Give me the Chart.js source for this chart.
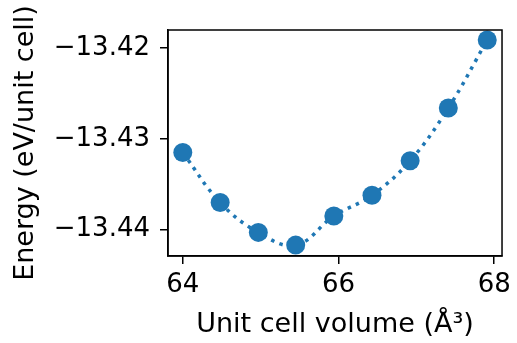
<!DOCTYPE html>
<html>
<head>
<meta charset="utf-8">
<script src="https://cdn.jsdelivr.net/npm/chart.js@4"></script>
<style>
  html, body { margin: 0; padding: 0; background: #fff; }
  #wrap { width: 517px; height: 343px; }
</style>
</head>
<body>
<div id="wrap"><canvas id="chart" width="517" height="343"></canvas></div>
<script>
// valores
const volumes = [64.00, 64.48, 64.97, 65.45, 65.94, 66.43, 66.92, 67.41, 67.91];
const energies = [-13.4315, -13.4370, -13.4403, -13.4417, -13.4385, -13.4362, -13.4324, -13.4266, -13.4191];
const xTicks = [64, 66, 68];
const yTicks = [-13.42, -13.43, -13.44];

const blue = '#1f77b4';
const fontFamily = '"DejaVu Sans", sans-serif';

const points = volumes.map((v, i) => ({ x: v, y: energies[i] }));

new Chart(document.getElementById('chart').getContext('2d'), {
    type: 'scatter',
    data: {
        datasets: [{
            data: points,
            showLine: true,
            tension: 0.4,
            borderColor: blue,
            borderWidth: 3.5,
            borderDash: [3.5, 5.5],
            backgroundColor: blue,
            pointBackgroundColor: blue,
            pointBorderWidth: 0,
            pointRadius: 9.5,
            clip: false
        }]
    },
    options: {
        responsive: false,
        animation: false,
        layout: { padding: { top: 30, right: 9, left: 0, bottom: 0 } },
        plugins: {
            legend: { display: false },
            tooltip: { enabled: false }
        },
        scales: {
            x: {
                type: 'linear',
                min: 63.81,
                max: 68.10,
                afterBuildTicks: scale => { scale.ticks = xTicks.map(v => ({ value: v })); },
                afterFit: scale => { scale.height = 87; },
                border: { display: true, color: '#000', width: 1.5 },
                grid: { drawOnChartArea: false, drawTicks: true, tickLength: 8, color: '#000', lineWidth: 1.5 },
                ticks: {
                    color: '#000',
                    padding: 6,
                    font: { family: fontFamily, size: 26 },
                    callback: v => String(v)
                },
                title: {
                    display: true,
                    text: 'Unit cell volume (Å³)',
                    color: '#000',
                    font: { family: fontFamily, size: 27 },
                    padding: { top: 0, bottom: 2 }
                }
            },
            y: {
                type: 'linear',
                min: -13.4429,
                max: -13.418,
                afterBuildTicks: scale => { scale.ticks = yTicks.map(v => ({ value: v })); },
                afterFit: scale => { scale.width = 168; },
                border: { display: true, color: '#000', width: 1.5 },
                grid: { drawOnChartArea: false, drawTicks: true, tickLength: 8, color: '#000', lineWidth: 1.5 },
                ticks: {
                    color: '#000',
                    padding: 10,
                    font: { family: fontFamily, size: 26 },
                    callback: v => '\u2212' + Math.abs(v).toFixed(2)
                },
                title: {
                    display: true,
                    text: 'Energy (eV/unit cell)',
                    color: '#000',
                    font: { family: fontFamily, size: 27 },
                    padding: { top: 10, bottom: 0 }
                }
            }
        }
    },
    plugins: [{
        // moldura completa (topo e direita), como no original
        id: 'frame',
        afterDraw(chart) {
            const { ctx, chartArea: a } = chart;
            ctx.save();
            ctx.strokeStyle = '#000';
            ctx.lineWidth = 1.5;
            ctx.strokeRect(a.left, a.top, a.right - a.left, a.bottom - a.top);
            ctx.restore();
        }
    }]
});
</script>
</body>
</html>
